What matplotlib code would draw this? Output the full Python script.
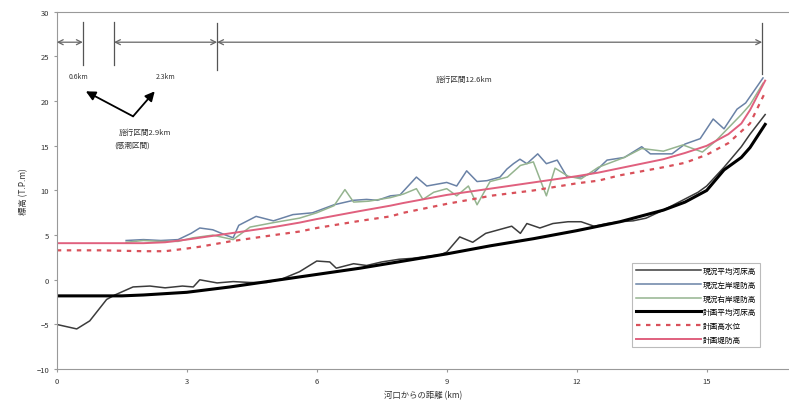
import matplotlib.pyplot as plt

plt.rcParams['font.family'] = ['Noto Sans CJK JP', 'DejaVu Sans']

# 現況平均河床高
bed_now_x = [0, 0.46, 0.76, 1.15, 1.34, 1.76, 2.15, 2.5, 2.9, 3.15, 3.3, 3.7, 4.07, 4.46, 4.85,
             5.2, 5.6, 6.0, 6.3, 6.45, 6.85, 7.15, 7.5, 7.9, 8.2, 8.85, 9.0, 9.3, 9.6, 9.9,
             10.2, 10.5, 10.7, 10.85, 11.15, 11.45, 11.8, 12.1, 12.4, 12.7, 13.0, 13.3, 13.6,
             14.0, 14.4, 14.8, 15.0, 15.4, 15.8, 16.0, 16.35]
bed_now_y = [-5.0, -5.5, -4.6, -2.2, -1.7, -0.8, -0.7, -0.9, -0.7, -0.8, 0.0, -0.35, -0.2, -0.3, -0.3,
             0.1, 0.9, 2.1, 2.0, 1.3, 1.8, 1.6, 2.0, 2.3, 2.4, 2.8, 3.1, 4.8, 4.2, 5.2,
             5.6, 6.0, 5.2, 6.3, 5.8, 6.3, 6.5, 6.5, 6.0, 6.3, 6.5, 6.6, 6.9,
             7.8, 8.8, 9.8, 10.5, 12.6, 14.9, 16.3, 18.5]

# 現況左岸堤防高
left_x = [1.6, 2.0, 2.4, 2.8, 3.1, 3.3, 3.6, 3.9, 4.07, 4.2, 4.6, 5.0, 5.45, 5.9, 6.4, 6.85,
          7.15, 7.4, 7.7, 7.92, 8.3, 8.54, 9.0, 9.23, 9.46, 9.7, 9.93, 10.23, 10.39, 10.54,
          10.69, 10.85, 11.1, 11.3, 11.55, 11.78, 12.08, 12.4, 12.7, 13.1, 13.5, 13.7, 14.2,
          14.5, 14.85, 15.15, 15.4, 15.7, 15.9, 16.3]
left_y = [4.4, 4.5, 4.4, 4.5, 5.2, 5.8, 5.6, 5.0, 4.7, 6.1, 7.1, 6.6, 7.3, 7.5, 8.4, 8.9,
          9.0, 8.9, 9.4, 9.5, 11.5, 10.5, 10.9, 10.5, 12.2, 11.0, 11.1, 11.5, 12.4, 13.0,
          13.5, 13.0, 14.1, 13.0, 13.4, 11.5, 11.5, 12.0, 13.4, 13.7, 14.9, 14.1, 14.1,
          15.2, 15.8, 18.0, 16.9, 19.1, 19.8, 22.6]

# 現況右岸堤防高
right_x = [1.6, 2.0, 2.4, 2.8, 3.14, 3.6, 4.07, 4.46, 5.0, 5.6, 6.0, 6.4, 6.65, 6.85, 7.2,
           7.7, 8.0, 8.3, 8.45, 8.7, 9.0, 9.23, 9.5, 9.7, 10.0, 10.4, 10.7, 11.0, 11.3, 11.5,
           11.8, 12.1, 12.5, 13.1, 13.5, 14.0, 14.45, 14.9, 15.2, 15.5, 15.8, 16.0, 16.3]
right_y = [4.2, 4.4, 4.3, 4.3, 4.7, 5.0, 4.5, 5.9, 6.4, 6.9, 7.5, 8.3, 10.1, 8.7, 8.8,
           9.2, 9.6, 10.2, 9.0, 9.8, 10.2, 9.4, 10.5, 8.4, 11.0, 11.5, 12.8, 13.2, 9.4, 12.5,
           11.6, 11.3, 12.6, 13.7, 14.7, 14.4, 15.1, 14.3, 15.5, 17.0, 18.5, 19.6, 22.0]

# 計画平均河床高
bed_plan_x = [0, 1.5, 2, 3, 4, 5, 6, 7, 8, 9, 10, 11, 12, 13, 14, 14.5, 15, 15.4, 15.8, 16.0, 16.35]
bed_plan_y = [-1.8, -1.8, -1.7, -1.4, -0.8, -0.1, 0.6, 1.3, 2.1, 2.9, 3.8, 4.6, 5.5, 6.5, 7.8, 8.7,
              10.0, 12.3, 13.7, 14.8, 17.4]

# 計画高水位
hwl_x = [0, 1, 2, 2.5, 3, 3.3, 4, 5, 5.6, 6, 7, 7.7, 8, 9, 9.8, 10, 11, 12, 12.5, 13, 14,
         14.5, 15, 15.5, 16, 16.35]
hwl_y = [3.3, 3.3, 3.2, 3.2, 3.5, 3.7, 4.3, 5.0, 5.4, 5.8, 6.6, 7.1, 7.5, 8.5, 9.2, 9.4, 10.0,
         10.8, 11.1, 11.7, 12.6, 13.1, 14.0, 15.3, 17.5, 21.0]

# 計画堤防高
levee_x = [0, 1, 2, 2.5, 3, 4, 5, 5.6, 6, 7, 7.7, 8, 9, 10, 11, 12, 12.5, 13, 14, 14.5, 15,
           15.5, 15.8, 16, 16.35]
levee_y = [4.1, 4.1, 4.1, 4.2, 4.5, 5.2, 5.9, 6.4, 6.8, 7.7, 8.3, 8.6, 9.5, 10.2, 10.9, 11.6,
           12.0, 12.5, 13.5, 14.2, 15.0, 16.3, 17.5, 19.0, 22.3]

fig = plt.figure(figsize=(7.89, 4.14), dpi=100)
ax = fig.add_axes([0.072, 0.106, 0.928, 0.863])

ax.plot(bed_now_x, bed_now_y, color='#3c3c3c', lw=1.1, label='現況平均河床高')
ax.plot(left_x, left_y, color='#6a82a6', lw=1.1, label='現況左岸堤防高')
ax.plot(right_x, right_y, color='#95b48f', lw=1.1, label='現況右岸堤防高')
ax.plot(bed_plan_x, bed_plan_y, color='black', lw=2.2, label='計画平均河床高')
ax.plot(hwl_x, hwl_y, color='#d9505a', lw=1.6, ls=(0, (2, 2.5)), label='計画高水位')
ax.plot(levee_x, levee_y, color='#e0607e', lw=1.4, label='計画堤防高')

ax.set_xlim(0, 16.9)
ax.set_ylim(-10, 30)
ax.set_xticks([0, 3, 6, 9, 12, 15])
ax.set_yticks(range(-10, 31, 5))
ax.tick_params(labelsize=5.5, length=2, color='#999999', labelcolor='#333333')
for side in ['left', 'bottom', 'top']:
    ax.spines[side].set_color('#999999')
ax.spines['right'].set_visible(False)
ax.set_xlabel('河口からの距離 (km)', fontsize=6, color='#333333', labelpad=4)
ax.set_ylabel('標高 (T.P.m)', fontsize=6, color='#333333', labelpad=6)

# 施行区間の矢印
arrow_gray = dict(arrowstyle='<->', color='#666666', lw=0.9, shrinkA=0, shrinkB=0, mutation_scale=9)
ax.annotate('', xy=(0, 26.6), xytext=(0.6, 26.6), arrowprops=arrow_gray)
ax.annotate('', xy=(1.32, 26.6), xytext=(3.7, 26.6), arrowprops=arrow_gray)
ax.annotate('', xy=(3.7, 26.6), xytext=(16.28, 26.6), arrowprops=arrow_gray)
for xv, y0, y1 in [(0.6, 24.0, 28.9), (1.32, 24.0, 28.9), (3.7, 23.5, 28.8), (16.28, 23.0, 28.7)]:
    ax.plot([xv, xv], [y0, y1], color='#555555', lw=0.9)

ax.text(0.5, 22.8, '0.6km', fontsize=5, ha='center', va='center', color='#333333')
ax.text(2.5, 22.8, '2.3km', fontsize=5, ha='center', va='center', color='#333333')
ax.text(9.4, 22.5, '施行区間12.6km', fontsize=5.5, ha='center', va='center', color='#333333')
ax.text(2.03, 16.6, '施行区間2.9km', fontsize=5.5, ha='center', va='center', color='#333333')
ax.text(1.73, 15.1, '(感潮区間)', fontsize=5.5, ha='center', va='center', color='#333333')

arrow_black = dict(arrowstyle='-|>', color='black', lw=1.3, mutation_scale=14, shrinkA=0, shrinkB=0)
ax.annotate('', xy=(0.67, 21.1), xytext=(1.76, 18.3), arrowprops=arrow_black)
ax.annotate('', xy=(2.26, 21.1), xytext=(1.76, 18.3), arrowprops=arrow_black)

leg = ax.legend(loc='lower right', bbox_to_anchor=(0.965, 0.05), fontsize=5.5, handlelength=8.5,
                handletextpad=0.2, labelspacing=0.75, borderpad=0.5, fancybox=False,
                frameon=True)
leg.get_frame().set_edgecolor('#aaaaaa')
leg.get_frame().set_linewidth(0.8)

fig.savefig('out.png', dpi=100)
